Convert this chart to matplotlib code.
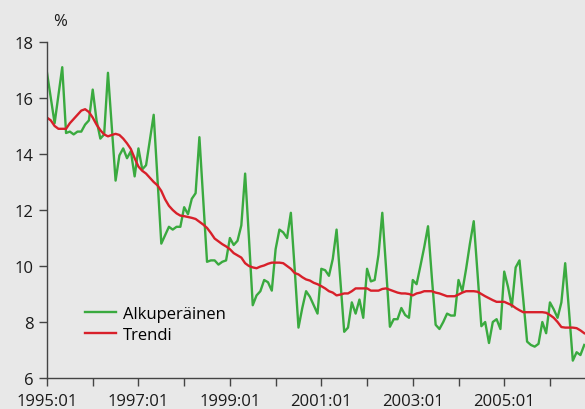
import numpy as np
from matplotlib import pyplot as plt

plt.rcParams['font.family'] = ['Open Sans', 'DejaVu Sans']

# monthly values, 1995:01 .. 2006:10
original = [
    16.9, 16.0, 15.1, 16.1, 17.1, 14.75, 14.8, 14.7, 14.8, 14.8, 15.05, 15.2,
    16.3, 15.2, 14.55, 14.7, 16.9, 15.0, 13.05, 13.95, 14.2, 13.85, 14.1, 13.2,
    14.2, 13.45, 13.6, 14.5, 15.4, 13.1, 10.8, 11.1, 11.4, 11.3, 11.4, 11.4,
    12.1, 11.85, 12.4, 12.6, 14.6, 12.4, 10.15, 10.2, 10.2, 10.05, 10.15, 10.2,
    11.0, 10.75, 10.9, 11.45, 13.3, 11.0, 8.6, 8.95, 9.1, 9.5, 9.42, 9.12,
    10.6, 11.3, 11.2, 11.0, 11.9, 9.9, 7.8, 8.5, 9.1, 8.9, 8.6, 8.3,
    9.9, 9.85, 9.65, 10.25, 11.3, 9.5, 7.65, 7.8, 8.7, 8.3, 8.8, 8.15,
    9.9, 9.45, 9.5, 10.4, 11.9, 9.9, 7.83, 8.1, 8.1, 8.5, 8.25, 8.15,
    9.5, 9.35, 10.0, 10.67, 11.42, 9.6, 7.9, 7.75, 8.0, 8.3, 8.23, 8.23,
    9.5, 9.1, 9.9, 10.8, 11.6, 9.7, 7.85, 8.0, 7.25, 8.0, 8.1, 7.75,
    9.8, 9.25, 8.55, 9.95, 10.2, 8.8, 7.3, 7.18, 7.12, 7.22, 8.0, 7.6,
    8.7, 8.45, 8.15, 8.7, 10.1, 8.4, 6.62, 6.92, 6.82, 7.18,
]
trend = [
    15.3, 15.2, 15.0, 14.9, 14.9, 14.9, 15.1, 15.25, 15.4, 15.55, 15.6, 15.5,
    15.3, 15.05, 14.85, 14.7, 14.63, 14.68, 14.72, 14.68, 14.55, 14.38, 14.18, 13.85,
    13.55, 13.4, 13.3, 13.15, 13.0, 12.88, 12.68, 12.38, 12.15, 12.0, 11.88, 11.8,
    11.78, 11.75, 11.72, 11.68, 11.58, 11.48, 11.36, 11.18, 10.98, 10.88, 10.78, 10.7,
    10.6, 10.46, 10.38, 10.3, 10.1, 10.0, 9.95, 9.92, 9.98, 10.02, 10.08, 10.12,
    10.12, 10.12, 10.1, 10.0, 9.9, 9.75, 9.7, 9.6, 9.52, 9.48, 9.4, 9.35,
    9.28, 9.2, 9.1, 9.05, 8.95, 8.98, 9.02, 9.02, 9.1, 9.2, 9.2, 9.2,
    9.2, 9.12, 9.12, 9.12, 9.18, 9.2, 9.15, 9.1, 9.05, 9.02, 9.02, 9.0,
    8.95, 9.02, 9.05, 9.1, 9.1, 9.1, 9.05, 9.02, 8.97, 8.92, 8.92, 8.92,
    8.98, 9.05, 9.1, 9.1, 9.1, 9.08, 9.0, 8.92, 8.85, 8.78, 8.72, 8.72,
    8.72, 8.66, 8.6, 8.5, 8.42, 8.35, 8.35, 8.35, 8.35, 8.35, 8.35, 8.33,
    8.25, 8.15, 8.0, 7.82, 7.8, 7.8, 7.8, 7.78, 7.7, 7.6,
]
years = list(range(1995, 2007))
year_labels = [f'{y}:01' if (y - 1995) % 2 == 0 else '' for y in years]

bg = '#e8e8e8'
fig = plt.figure(figsize=(5.85, 4.10), dpi=100, facecolor=bg)
ax = fig.add_axes([47 / 585, 1 - 379 / 410, 538 / 585, 336 / 410], facecolor=bg)

months = np.arange(len(original))
ax.plot(months, original, color='#3aaa3f', lw=1.7, label='Alkuperäinen')
ax.plot(months, trend, color='#d8202a', lw=1.7, label='Trendi')

ax.set_xlim(0, 141.2)
ax.set_ylim(6, 18)
ax.set_xticks([12 * (y - 1995) for y in years])
ax.set_xticklabels(year_labels)
ax.set_yticks([6, 8, 10, 12, 14, 16, 18])

for s in ['top', 'right']:
    ax.spines[s].set_visible(False)
for s in ['left', 'bottom']:
    ax.spines[s].set_color('#444444')
    ax.spines[s].set_linewidth(1.0)
ax.tick_params(direction='out', length=6, width=1, color='#444444',
               labelsize=12, labelcolor='#1a1a1a')
ax.tick_params(axis='x', pad=4.5)

fig.text(60 / 585, 1 - 22 / 410, '%', fontsize=12, color='#1a1a1a',
         ha='center', va='center')

ax.legend(loc='upper left', bbox_to_anchor=(0.07, 0.214), frameon=False,
          fontsize=12, handlelength=1.9, handletextpad=0.4, labelspacing=0.27,
          borderpad=0, borderaxespad=0)

fig.savefig('out.png', dpi=100, facecolor=bg)
